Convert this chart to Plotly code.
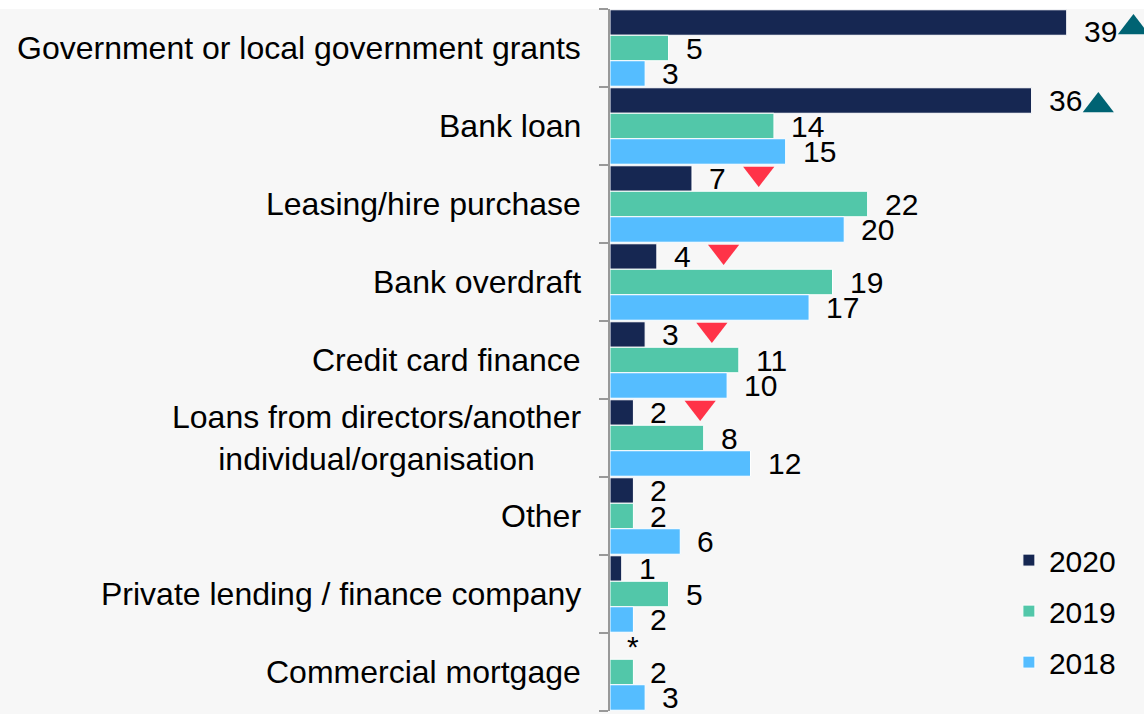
import plotly.graph_objs as go

# Sources of finance used, % of businesses
categories = [
    "Government or local government grants",
    "Bank loan",
    "Leasing/hire purchase",
    "Bank overdraft",
    "Credit card finance",
    "Loans from directors/another<br>individual/organisation",
    "Other",
    "Private lending / finance company",
    "Commercial mortgage",
]
years = ["2020", "2019", "2018"]
v2020 = [39, 36, 7, 4, 3, 2, 2, 1, None]   # None -> shown as "*"
v2019 = [5, 14, 22, 19, 11, 8, 2, 5, 2]
v2018 = [3, 15, 20, 17, 10, 12, 6, 2, 3]
# significant change 2020 vs 2019
trend2020 = ["up", "up", "down", "down", "down", "down", None, None, None]

colors = ["#162752", "#52c7a9", "#55bdff"]
UP_COLOR = "#006373"
DOWN_COLOR = "#ff3348"
FONT = "Liberation Sans, Arial, sans-serif"

BARGAP = 0.02
slot = (1 - BARGAP) / len(years)
idx = list(range(len(categories)))


def main():
    fig = go.Figure()
    series = [v2020, v2019, v2018]

    for name, vals, col in zip(years, series, colors):
        fig.add_trace(go.Bar(
            y=idx, x=vals, name=name, orientation="h",
            marker=dict(color=col, line=dict(color="white", width=1)),
            legendgroup=name, hoverinfo="x+name",
        ))

    # value labels next to each bar
    annotations = []
    for k, vals in enumerate(series):
        for i, v in enumerate(vals):
            annotations.append(dict(
                x=0 if v is None else v, y=i + (k - 1) * slot,
                text="*" if v is None else str(v),
                showarrow=False, xanchor="left", yanchor="middle", xshift=15,
                # the top label sits a little lower, clear of the frame
                yshift=-9 if (i == 0 and k == 0) else 0,
                font=dict(size=30, color="black", family=FONT),
            ))

    # category labels left of the axis
    for i, c in enumerate(categories):
        annotations.append(dict(
            x=0, xref="paper", y=i, yref="y", text=c, showarrow=False,
            xanchor="right", yanchor="middle", align="center", xshift=-27,
            font=dict(size=32, color="black", family=FONT),
        ))

    # change markers for 2020
    for direction, symbol, col, dy in [("up", "triangle-up", UP_COLOR, 0.065),
                                       ("down", "triangle-down", DOWN_COLOR, -0.065)]:
        xs = [v + 5.7 for v, t in zip(v2020, trend2020) if t == direction]
        ys = [i - slot + dy for i, t in zip(idx, trend2020) if t == direction]
        fig.add_trace(go.Scatter(
            x=xs, y=ys, mode="markers", showlegend=False, hoverinfo="skip",
            marker=dict(symbol=symbol, size=27, color=col, line=dict(width=0)),
        ))

    fig.update_layout(
        width=1144, height=714,
        margin=dict(l=610, r=0, t=9, b=3),
        paper_bgcolor="#f7f7f7", plot_bgcolor="#f7f7f7",
        barmode="group", bargap=BARGAP, bargroupgap=0,
        font=dict(family=FONT, size=30, color="black"),
        annotations=annotations,
        showlegend=True,
        legend=dict(
            x=0.747, xanchor="left", y=0.252, yanchor="top",
            bgcolor="rgba(0,0,0,0)", font=dict(size=30, family=FONT),
            traceorder="grouped", tracegroupgap=9,
        ),
        shapes=[dict(type="rect", xref="paper", yref="paper",
                     x0=-2, x1=2, y0=1, y1=1.1, fillcolor="white",
                     line=dict(width=0), layer="below")],
    )
    fig.update_xaxes(range=[0, 45.6], visible=False, showgrid=False, zeroline=False)
    fig.update_yaxes(
        range=[len(categories) - 0.5, -0.5],
        tickvals=[i - 0.5 for i in range(len(categories) + 1)],
        showticklabels=False, showgrid=False, zeroline=False,
        showline=True, linecolor="#999999", linewidth=2,
        ticks="outside", ticklen=9, tickwidth=2, tickcolor="#999999",
    )

    # drop the default page margin so the figure sits at the window corner
    fig.write_html("out.html", config={"displayModeBar": False},
                   post_script="document.body.style.margin='0';")


if __name__ == "__main__":
    main()
